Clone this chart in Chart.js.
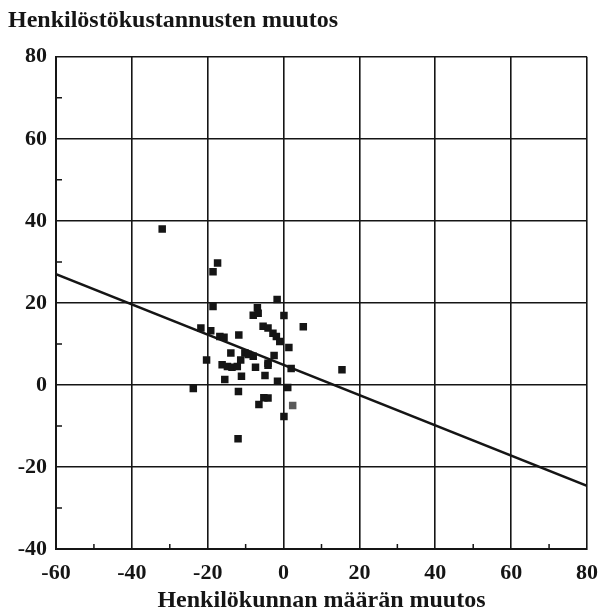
<!DOCTYPE html>
<html>
<head>
<meta charset="utf-8">
<script src="https://cdn.jsdelivr.net/npm/chart.js@4/dist/chart.umd.min.js"></script>
<style>
  body { margin: 0; background: #fff; }
  #wrap { width: 604px; height: 615px; position: relative; }
</style>
</head>
<body>
<div id="wrap"><canvas id="myChart"></canvas></div>
<script>
// change in headcount (x) vs change in personnel costs (y), %
const staffChange = [
  -32, -17.4, -18.6, -18.6, -1.7, -6.9, -8.0, -6.7, 0.1, 5.2,
  -21.8, -19.2, -5.4, -4.1, -2.8, -1.9, -1.0, -16.8, -15.7, -11.8,
  1.4, -20.3, -13.9, -10.2, -9.3, -8.0, -11.3, -2.5, -4.1, -16.2,
  -14.8, -13.6, -12.2, -7.4, -4.1, 2.0, 15.4, -11.1, -4.9, -15.5,
  -1.6, -23.8, 1.1, -11.9, -5.2, -4.1, -6.5, 0.1, -12.0,
];
const costChange = [
  38, 29.7, 27.6, 19.1, 20.8, 18.8, 17.0, 17.5, 16.9, 14.2,
  13.9, 13.2, 14.3, 13.9, 12.6, 11.8, 10.6, 11.8, 11.6, 12.2,
  9.1, 6.1, 7.8, 7.8, 7.4, 7.0, 6.1, 7.2, 5.3, 4.9,
  4.5, 4.3, 4.5, 4.3, 4.8, 4.0, 3.7, 2.1, 2.3, 1.3,
  0.9, -0.9, -0.6, -1.6, -3.1, -3.2, -4.8, -7.7, -13.1,
];
// one lighter (grey) observation
const greyX = [2.4];
const greyY = [-5.0];

// fitted regression line end points
const fitX = [-60, 80];
const fitY = [27, -24.6];

const xTicks = [-60, -40, -20, 0, 20, 40, 60, 80];
const yTicks = [-40, -20, 0, 20, 40, 60, 80];

const font = { family: '"Liberation Serif", "Times New Roman", serif', weight: 'bold' };
const ink = '#151515';

const toPoints = (xs, ys) => xs.map((x, i) => ({ x, y: ys[i] }));

const major = v => v % 20 === 0;

// short inward tick marks at the odd tens
const minorTicks = {
  id: 'minorTicks',
  afterDatasetsDraw(chart) {
    const { ctx, chartArea, scales } = chart;
    ctx.save();
    ctx.strokeStyle = ink;
    ctx.lineWidth = 1.5;
    ctx.beginPath();
    scales.y.ticks.forEach(t => {
      if (major(t.value)) return;
      const py = scales.y.getPixelForValue(t.value);
      ctx.moveTo(chartArea.left, py);
      ctx.lineTo(chartArea.left + 6, py);
    });
    scales.x.ticks.forEach(t => {
      if (major(t.value)) return;
      const px = scales.x.getPixelForValue(t.value);
      ctx.moveTo(px, chartArea.bottom);
      ctx.lineTo(px, chartArea.bottom - 5);
    });
    ctx.stroke();
    ctx.restore();
  },
};

new Chart(document.getElementById('myChart'), {
  type: 'scatter',
  data: {
    datasets: [
      {
        data: toPoints(staffChange, costChange),
        pointStyle: 'rect',
        pointRadius: 5.3,
        backgroundColor: ink,
        borderColor: ink,
        borderWidth: 0,
      },
      {
        data: toPoints(greyX, greyY),
        pointStyle: 'rect',
        pointRadius: 5.3,
        backgroundColor: '#5a5a5a',
        borderColor: '#5a5a5a',
        borderWidth: 0,
      },
      {
        type: 'line',
        data: toPoints(fitX, fitY),
        borderColor: ink,
        borderWidth: 2.5,
        pointRadius: 0,
        fill: false,
      },
    ],
  },
  options: {
    responsive: true,
    maintainAspectRatio: false,
    animation: false,
    layout: { padding: { left: 8, right: 17, top: 6, bottom: 0 } },
    plugins: {
      legend: { display: false },
      tooltip: { enabled: false },
      title: {
        display: true,
        text: 'Henkilöstökustannusten muutos',
        align: 'start',
        color: ink,
        font: { ...font, size: 24 },
        padding: { top: 0, bottom: 22 },
      },
    },
    scales: {
      x: {
        type: 'linear',
        min: -60,
        max: 80,
        afterBuildTicks: s => { s.ticks = [...xTicks, -50, -30, -10, 10, 30, 50, 70].sort((a, b) => a - b).map(v => ({ value: v })); },
        afterFit: s => { s.height = 66; s.paddingRight = 0; },
        ticks: {
          color: ink,
          font: { ...font, size: 22 },
          padding: 11,
          maxRotation: 0,
          autoSkip: false,
          callback: v => (xTicks.includes(v) ? String(v) : ''),
        },
        grid: {
          drawTicks: false,
          color: c => (c.tick && major(c.tick.value) ? ink : 'rgba(0,0,0,0)'),
          lineWidth: 1.6,
        },
        border: { display: true, color: ink, width: 2 },
        title: {
          display: true,
          text: 'Henkilökunnan määrän muutos',
          color: ink,
          font: { ...font, size: 24 },
          padding: { top: 0, bottom: 0 },
        },
      },
      y: {
        type: 'linear',
        min: -40,
        max: 80,
        afterBuildTicks: s => { s.ticks = [...yTicks, -30, -10, 10, 30, 50, 70].sort((a, b) => a - b).map(v => ({ value: v })); },
        afterFit: s => { s.width = 48; },
        ticks: {
          color: ink,
          font: { ...font, size: 22 },
          padding: 9,
          autoSkip: false,
          callback: v => (yTicks.includes(v) ? String(v) : ''),
        },
        grid: {
          drawTicks: false,
          color: c => (c.tick && major(c.tick.value) ? ink : 'rgba(0,0,0,0)'),
          lineWidth: 1.6,
        },
        border: { display: true, color: ink, width: 2 },
      },
    },
  },
  plugins: [minorTicks],
});
</script>
</body>
</html>
